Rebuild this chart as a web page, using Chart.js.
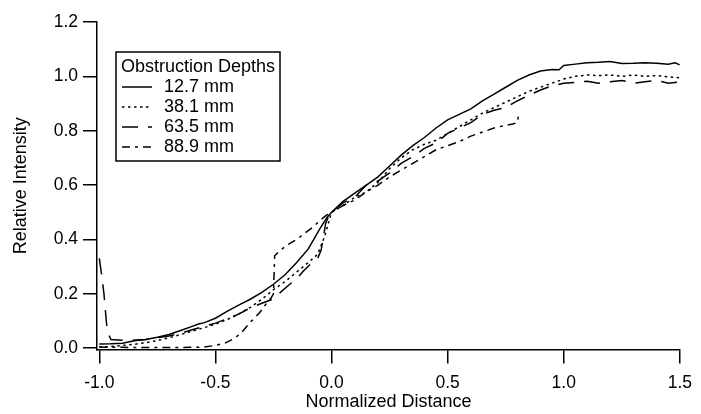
<!DOCTYPE html>
<html>
<head>
<meta charset="utf-8">
<script src="https://cdn.jsdelivr.net/npm/chart.js@4.4.1/dist/chart.umd.min.js"></script>
<style>
html, body { margin: 0; padding: 0; background: #fff; }
#wrap { width: 701px; height: 414px; }
</style>
</head>
<body>
<div id="wrap"><canvas id="chart"></canvas></div>
<script>
// Values
const legendTitle = 'Obstruction Depths';
const seriesNames = ['12.7 mm', '38.1 mm', '63.5 mm', '88.9 mm'];

const x127 = [-1.0, -0.95, -0.9, -0.85, -0.8, -0.75, -0.7, -0.65, -0.6, -0.57, -0.55, -0.5, -0.45, -0.4, -0.35, -0.3, -0.25, -0.2, -0.15, -0.1, -0.05, -0.02, 0.0, 0.05, 0.1, 0.15, 0.2, 0.25, 0.3, 0.35, 0.4, 0.45, 0.5, 0.55, 0.6, 0.65, 0.7, 0.75, 0.8, 0.85, 0.9, 0.95, 0.98, 1.0, 1.05, 1.1, 1.15, 1.2, 1.25, 1.3, 1.35, 1.4, 1.45, 1.48, 1.5];
const y127 = [0.015, 0.016, 0.018, 0.027, 0.032, 0.04, 0.05, 0.065, 0.08, 0.09, 0.093, 0.11, 0.135, 0.158, 0.18, 0.205, 0.235, 0.27, 0.315, 0.365, 0.44, 0.48, 0.5, 0.54, 0.57, 0.6, 0.63, 0.67, 0.71, 0.745, 0.775, 0.81, 0.84, 0.86, 0.88, 0.91, 0.935, 0.96, 0.985, 1.005, 1.02, 1.025, 1.024, 1.04, 1.045, 1.05, 1.052, 1.055, 1.047, 1.048, 1.05, 1.048, 1.045, 1.05, 1.042];

const x381 = [-1.0, -0.95, -0.9, -0.85, -0.8, -0.75, -0.7, -0.65, -0.6, -0.55, -0.5, -0.45, -0.4, -0.35, -0.3, -0.25, -0.2, -0.15, -0.1, -0.06, -0.03, 0.0, 0.05, 0.1, 0.15, 0.2, 0.25, 0.3, 0.35, 0.4, 0.45, 0.5, 0.55, 0.6, 0.65, 0.7, 0.75, 0.8, 0.85, 0.9, 0.95, 1.0, 1.05, 1.1, 1.15, 1.2, 1.25, 1.3, 1.35, 1.4, 1.45, 1.5];
const y381 = [0.004, 0.006, 0.01, 0.014, 0.02, 0.028, 0.038, 0.05, 0.062, 0.075, 0.088, 0.105, 0.125, 0.15, 0.18, 0.215, 0.245, 0.28, 0.315, 0.345, 0.41, 0.5, 0.525, 0.555, 0.575, 0.61, 0.66, 0.7, 0.73, 0.75, 0.765, 0.79, 0.815, 0.84, 0.865, 0.885, 0.905, 0.925, 0.945, 0.96, 0.975, 0.99, 1.0, 1.005, 1.003, 1.005, 1.0, 1.005, 1.0, 1.003, 0.998, 0.995];

const x635 = [-1.0, -0.99, -0.98, -0.97, -0.965, -0.95, -0.92, -0.88, -0.84, -0.8, -0.75, -0.7, -0.65, -0.6, -0.55, -0.5, -0.45, -0.4, -0.35, -0.3, -0.26, -0.22, -0.18, -0.15, -0.12, -0.09, -0.06, -0.045, -0.035, -0.025, -0.01, 0.0, 0.05, 0.1, 0.15, 0.2, 0.25, 0.3, 0.35, 0.4, 0.45, 0.5, 0.55, 0.6, 0.65, 0.7, 0.75, 0.8, 0.85, 0.9, 0.95, 1.0, 1.05, 1.1, 1.15, 1.2, 1.25, 1.3, 1.35, 1.4, 1.45, 1.5];
const y635 = [0.33, 0.27, 0.2, 0.1, 0.06, 0.032, 0.03, 0.028, 0.03, 0.032, 0.038, 0.045, 0.055, 0.068, 0.08, 0.092, 0.108, 0.125, 0.148, 0.165, 0.178, 0.205, 0.235, 0.255, 0.285, 0.31, 0.33, 0.36, 0.41, 0.46, 0.49, 0.5, 0.535, 0.555, 0.6, 0.615, 0.645, 0.68, 0.705, 0.735, 0.755, 0.79, 0.81, 0.83, 0.86, 0.875, 0.885, 0.91, 0.93, 0.95, 0.965, 0.975, 0.978, 0.982, 0.975, 0.98, 0.985, 0.975, 0.98, 0.985, 0.975, 0.98];

const x889 = [-1.0, -0.95, -0.9, -0.85, -0.8, -0.75, -0.7, -0.65, -0.6, -0.55, -0.5, -0.46, -0.42, -0.39, -0.35, -0.31, -0.28, -0.26, -0.25, -0.245, -0.22, -0.19, -0.15, -0.12, -0.08, -0.05, -0.02, 0.0, 0.05, 0.1, 0.15, 0.2, 0.25, 0.3, 0.35, 0.4, 0.45, 0.5, 0.55, 0.6, 0.65, 0.7, 0.75, 0.78, 0.8, 0.805];
const y889 = [0.004, 0.003, 0.003, 0.002, 0.002, 0.002, 0.002, 0.002, 0.003, 0.004, 0.01, 0.018, 0.035, 0.055, 0.095, 0.13, 0.165, 0.185, 0.2, 0.34, 0.36, 0.38, 0.4, 0.42, 0.445, 0.47, 0.49, 0.5, 0.525, 0.545, 0.575, 0.6, 0.63, 0.655, 0.68, 0.705, 0.73, 0.745, 0.76, 0.78, 0.795, 0.81, 0.82, 0.825, 0.83, 0.855];

const xTicks = [-1.0, -0.5, 0.0, 0.5, 1.0, 1.5];
const yTicks = [0.0, 0.2, 0.4, 0.6, 0.8, 1.0, 1.2];

const FONT = '"Liberation Sans", Arial, sans-serif';

function pts(xs, ys) {
    return xs.map((x, i) => ({ x: x, y: ys[i] }));
}

const lineStyles = [[], [2.5, 3.5], [16, 10], [8, 5, 3, 5]];
const xsAll = [x127, x381, x635, x889];
const ysAll = [y127, y381, y635, y889];

const datasets = seriesNames.map((name, i) => ({
    label: name,
    data: pts(xsAll[i], ysAll[i]),
    borderColor: '#000',
    borderWidth: 1.5,
    borderDash: lineStyles[i],
    pointRadius: 0,
    tension: 0,
    fill: false
}));

// legend box drawn inside the plot like the original
const boxLegend = {
    id: 'boxLegend',
    afterDraw(chart) {
        const ctx = chart.ctx;
        const bx = 116, by = 52, bw = 164, bh = 109;
        ctx.save();
        ctx.fillStyle = '#fff';
        ctx.fillRect(bx, by, bw, bh);
        ctx.strokeStyle = '#000';
        ctx.lineWidth = 1.5;
        ctx.strokeRect(bx, by, bw, bh);
        ctx.font = '18px ' + FONT;
        ctx.textBaseline = 'middle';
        ctx.textAlign = 'left';
        ctx.fillStyle = '#000';
        ctx.fillText(legendTitle, 121, 67);
        chart.data.datasets.forEach((ds, i) => {
            const cy = 87 + i * 20;
            ctx.setLineDash(ds.borderDash || []);
            ctx.lineWidth = ds.borderWidth;
            ctx.beginPath();
            ctx.moveTo(122, cy);
            ctx.lineTo(152, cy);
            ctx.stroke();
            ctx.setLineDash([]);
            ctx.fillText(ds.label, 164, cy);
        });
        ctx.restore();
    }
};

new Chart(document.getElementById('chart'), {
    type: 'line',
    data: { datasets: datasets },
    plugins: [boxLegend],
    options: {
        responsive: true,
        maintainAspectRatio: false,
        animation: false,
        devicePixelRatio: 1,
        layout: { padding: { top: 22, right: 12, bottom: 0, left: 0 } },
        plugins: { legend: { display: false }, tooltip: { enabled: false } },
        scales: {
            x: {
                type: 'linear',
                min: -1.01,
                max: 1.5,
                afterBuildTicks: s => { s.ticks = xTicks.map(v => ({ value: v })); },
                afterFit: s => { s.height = 64.5; },
                border: { display: true, color: '#000', width: 1.5 },
                grid: { display: true, drawOnChartArea: false, drawTicks: true, tickLength: 14, color: '#000', lineWidth: 1.5 },
                ticks: { color: '#000', padding: 9, maxRotation: 0, font: { family: FONT, size: 17.5 }, callback: v => Number(v).toFixed(1) },
                title: { display: true, text: 'Normalized Distance', color: '#000', font: { family: FONT, size: 18 }, padding: { top: 4, bottom: 1 } }
            },
            y: {
                type: 'linear',
                min: -0.005,
                max: 1.2,
                afterBuildTicks: s => { s.ticks = yTicks.map(v => ({ value: v })); },
                afterFit: s => { s.width = 97; },
                border: { display: true, color: '#000', width: 1.5 },
                grid: { display: true, drawOnChartArea: false, drawTicks: true, tickLength: 14, color: '#000', lineWidth: 1.5 },
                ticks: { color: '#000', padding: 5, font: { family: FONT, size: 17.5 }, callback: v => Number(v).toFixed(1) },
                title: { display: true, text: 'Relative Intensity', color: '#000', font: { family: FONT, size: 18 }, padding: { top: 10, bottom: 0 } }
            }
        }
    }
});
</script>
</body>
</html>
